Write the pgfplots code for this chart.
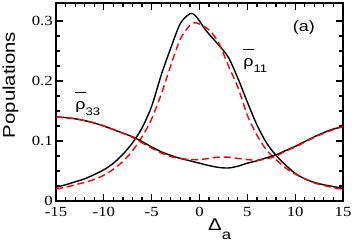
\documentclass[border=0pt]{standalone}
\usepackage{fontspec}
\setmainfont{Liberation Sans}
\newfontfamily\serifnum{Liberation Serif}
\usepackage{pgfplots}
\pgfplotsset{compat=1.18}
\newcommand\W[1]{\scalebox{1.2}[1]{#1}}
\newcommand\rhobar[1]{\W{\makebox[0pt][l]{\raisebox{1.1em}{\rule{0.57em}{0.08em}}}ρ\raisebox{-0.4em}{\fontsize{11}{11}\selectfont #1}}}
\begin{document}
\begin{tikzpicture}
\useasboundingbox (-56bp,-41bp) rectangle (298bp,201bp);
\begin{axis}[
  at={(0,0)}, anchor=south west,
  scale only axis, width=287bp, height=198bp,
  xmin=-15, xmax=15, ymin=0, ymax=0.33,
  xtick={-15,-10,-5,0,5,10,15},
  xticklabels={\W{-15},\W{-10},\W{-5},\W{0},\W{5},\W{10},\W{15}},
  ytick={0,0.1,0.2,0.3},
  yticklabels={\W{0},\W{0.1},\W{0.2},\W{0.3}},
  minor x tick num=4, minor y tick num=3,
  tick align=inside, tick pos=both,
  major tick length=7bp, minor tick length=4bp,
  every tick/.style={line width=1.2bp, black},
  axis line style={line width=1.8bp},
  xticklabel style={font=\serifnum\fontsize{14}{14}\selectfont, inner sep=0pt, anchor=north, yshift=-6bp},
  yticklabel style={font=\serifnum\fontsize{14}{14}\selectfont, inner sep=0pt, anchor=east, xshift=-3bp},
  clip mode=individual,
]
% rho11 black
\addplot[black, line width=1.4bp, smooth] coordinates {
(-15,0.023)(-14,0.027)(-13,0.032)(-12,0.037)(-11,0.044)(-10,0.052)(-9,0.063)(-8,0.078)(-7,0.097)(-6,0.122)(-5,0.158)(-4,0.210)(-3,0.255)(-2,0.296)(-1,0.312)(-0.5,0.310)(0,0.300)(0.5,0.288)(1,0.278)(2,0.260)(3,0.240)(4,0.205)(5,0.165)(6,0.127)(7,0.097)(8,0.076)(9,0.060)(10,0.046)(11,0.037)(12,0.031)(13,0.027)(14,0.024)(15,0.021)};
% rho11 red
\addplot[red, line width=1.4bp, dash pattern=on 7bp off 4bp, smooth] coordinates {
(-15,0.020)(-14,0.023)(-13,0.027)(-12,0.031)(-11,0.036)(-10,0.043)(-9,0.053)(-8,0.066)(-7,0.084)(-6,0.107)(-5,0.137)(-4,0.178)(-3,0.226)(-2,0.270)(-1,0.293)(-0.5,0.297)(0,0.295)(1,0.285)(2,0.264)(3,0.226)(4,0.190)(5,0.143)(6,0.110)(7,0.085)(8,0.069)(9,0.055)(10,0.045)(11,0.037)(12,0.030)(13,0.026)(14,0.022)(15,0.0195)};
% rho33 black
\addplot[black, line width=1.4bp, smooth] coordinates {
(-15,0.140)(-14,0.139)(-13,0.137)(-12,0.134)(-11,0.130)(-10,0.125)(-9,0.119)(-8,0.113)(-7,0.107)(-6,0.099)(-5,0.090)(-4,0.082)(-3,0.076)(-2,0.071)(-1,0.067)(0,0.063)(1,0.059)(2,0.056)(3,0.055)(4,0.058)(5,0.063)(6,0.067)(7,0.072)(8,0.077)(9,0.084)(10,0.091)(11,0.099)(12,0.107)(13,0.114)(14,0.120)(15,0.124)};
% rho33 red
\addplot[red, line width=1.4bp, dash pattern=on 7bp off 4bp, smooth] coordinates {
(-15,0.140)(-14,0.139)(-13,0.137)(-12,0.134)(-11,0.130)(-10,0.125)(-9,0.119)(-8,0.113)(-7,0.106)(-6,0.097)(-5,0.088)(-4,0.080)(-3,0.074)(-2,0.071)(-1,0.069)(0,0.069)(1,0.071)(2,0.073)(3,0.073)(4,0.071)(5,0.069)(6,0.068)(7,0.070)(8,0.075)(9,0.083)(10,0.090)(11,0.098)(12,0.106)(13,0.113)(14,0.119)(15,0.124)};
% annotations
\node[font=\fontsize{15}{15}\selectfont, inner sep=0pt] at (axis cs:10.9,0.289) {\W{(a)}};
\node[font=\fontsize{15}{15}\selectfont, inner sep=0pt, anchor=base west] at (axis cs:4.57,0.224) {\rhobar{11}};
\node[font=\fontsize{15}{15}\selectfont, inner sep=0pt, anchor=base west] at (axis cs:-13.0,0.153) {\rhobar{33}};
\node[font=\fontsize{17}{17}\selectfont, inner sep=0pt, rotate=90, anchor=base] at (axis description cs:-0.1429,0.5859) {\W{Populations}};
\node[font=\fontsize{17}{17}\selectfont, inner sep=0pt, anchor=base west] at (axis description cs:0.5296,-0.1465) {\W{Δ\raisebox{-0.55em}{\fontsize{14}{14}\selectfont a}}};
\end{axis}
\end{tikzpicture}
\end{document}
